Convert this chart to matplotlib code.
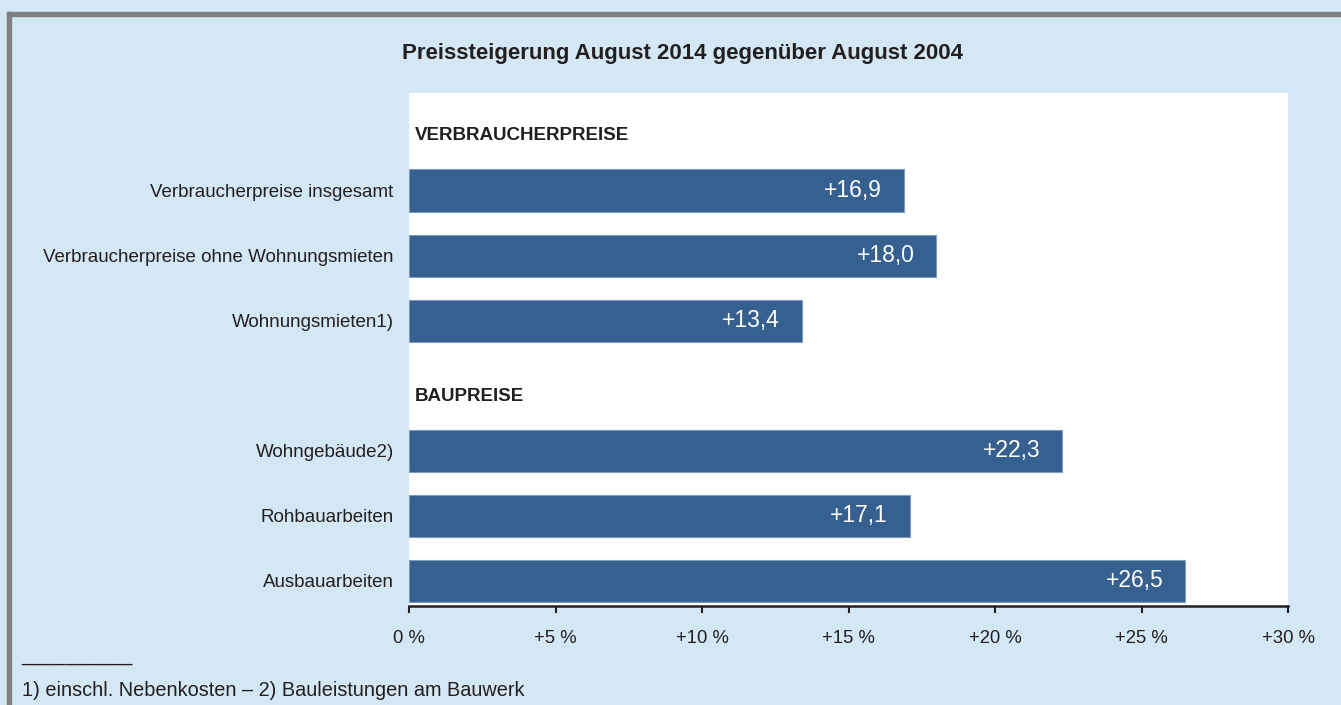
import matplotlib.pyplot as plt
from matplotlib.patches import Rectangle

plt.rcParams['font.family'] = ['Liberation Sans', 'DejaVu Sans']

# data
headers = ['VERBRAUCHERPREISE', 'BAUPREISE']
header_slots = [0, 4]
categories = ['Verbraucherpreise insgesamt',
              'Verbraucherpreise ohne Wohnungsmieten',
              'Wohnungsmieten1)',
              'Wohngebäude2)',
              'Rohbauarbeiten',
              'Ausbauarbeiten']
bar_slots = [1, 2, 3, 5, 6, 7]
values = [16.9, 18.0, 13.4, 22.3, 17.1, 26.5]
xticks = [0, 5, 10, 15, 20, 25, 30]
xticklabels = ['0 %', '+5 %', '+10 %', '+15 %', '+20 %', '+25 %', '+30 %']

title = 'Preissteigerung August 2014 gegenüber August 2004'
footnote = '1) einschl. Nebenkosten – 2) Bauleistungen am Bauwerk'

bg = '#d3e7f5'
bar_col = '#35608f'
txt = '#231f20'

W, H = 1341, 705
fig = plt.figure(figsize=(W / 100, H / 100), dpi=100, facecolor=bg)

# gray frame top and left
fig.patches.append(Rectangle((7 / W, 0), 4 / W, 1 - 12 / H, transform=fig.transFigure,
                             color='#7f7f7f', zorder=5))
fig.patches.append(Rectangle((7 / W, 1 - 16 / H), 1 - 7 / W, 4 / H, transform=fig.transFigure,
                             color='#7f7f7f', zorder=5))

# plot area 409..1288 x, 93..606 y
ax = fig.add_axes([409 / W, 1 - 606 / H, (1288 - 409) / W, (606 - 93) / H])
ax.set_facecolor('white')

ax.barh(bar_slots, values, height=0.65, color=bar_col, edgecolor='#7d9cc0', linewidth=0.8)
for s, v in zip(bar_slots, values):
    ax.text(v - 0.75, s, f'+{v:.1f}'.replace('.', ','), ha='right', va='center',
            color='white', fontsize=16.5)

for h, s in zip(headers, header_slots):
    ax.text(0.2, s + 0.16, h, ha='left', va='center', fontsize=13.5, fontweight='bold', color=txt)

ax.set_xlim(0, 30)
ax.set_ylim(7.385, -0.5)
ax.set_yticks(bar_slots)
ax.set_yticklabels(categories, fontsize=13.5, color=txt)
ax.tick_params(axis='y', length=0, pad=11)
ax.set_xticks(xticks)
ax.set_xticklabels(xticklabels, fontsize=13.3, color=txt)
ax.tick_params(axis='x', length=5, width=1.5, direction='out', pad=12, color=txt)

for sp in ['top', 'right', 'left']:
    ax.spines[sp].set_visible(False)
ax.spines['bottom'].set_linewidth(1.8)
ax.spines['bottom'].set_color(txt)

fig.text(682 / W, 1 - 54 / H, title, ha='center', va='center', fontsize=16,
         fontweight='bold', color=txt)
fig.text(21 / W, 1 - 661 / H, '__________', ha='left', va='baseline', fontsize=14.3, color=txt)
fig.text(22 / W, 1 - 690 / H, footnote, ha='left', va='center', fontsize=14.3, color=txt)

fig.savefig('out.png', dpi=100, facecolor=bg)
